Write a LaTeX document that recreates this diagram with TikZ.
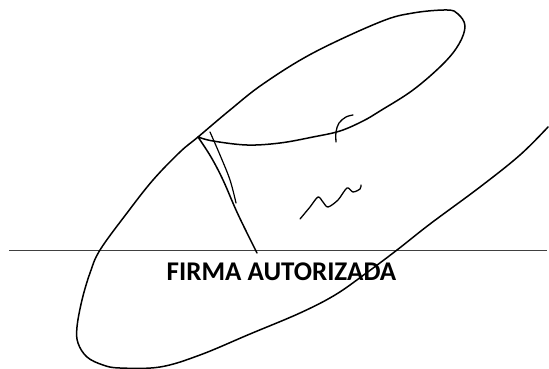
\documentclass[tikz,border=0pt]{standalone}
\usepackage{fontspec}
\setmainfont{Carlito}
\begin{document}
\begin{tikzpicture}[x=1pt,y=-1pt,
  ink/.style={line width=1.5pt,line cap=round,line join=round},
  rule/.style={line width=0.9pt,draw=black!75},
  label/.style={font=\bfseries\fontsize{27}{30}\selectfont,inner sep=0pt,anchor=base}]
\useasboundingbox (0,0) rectangle (549,369);
\coordinate (l1) at (9,250);
\coordinate (l2) at (547,250);
\draw[rule] (l1) -- (l2);
\node[label] (t) at (281.5,280) {FIRMA AUTORIZADA};
% main stroke
\draw[ink] plot[smooth,tension=0.6] coordinates {
 (198,137) (213,141) (247,145) (280,143) (313,137) (340,131) (363,121)
 (380,111) (413,90) (443,64) (459,44) (465,26) (458,14) (447,10)
 (413,13) (380,22) (313,53) (263,84) (230,110) (198,137) (180,152)
 (153,180) (127,213) (100,250) (90,273) (82,300) (77,327) (78,343)
 (87,357) (103,365) (120,368) (160,367) (200,355) (250,334)
 (300,313) (335,295) (365,274) (397,250) (430,224) (480,187) (520,155) (548,127)};
% V strokes
\draw[ink] plot[smooth,tension=0.6] coordinates {(198,137) (211,157) (223,180) (236,210) (248,235) (257,253)};
\draw[ink,line width=1.2pt] plot[smooth,tension=0.6] coordinates {(210,132) (220,155) (230,180) (236,203)};
% f hook
\draw[ink,line width=1.3pt] plot[smooth,tension=0.6] coordinates {(336,142) (336,132) (339,123) (346,117) (353,115)};
% small zigzag
\draw[ink,line width=1.3pt] plot[smooth,tension=0.5] coordinates {(300,219) (310,207) (318,197) (323,202) (328,207) (338,200) (347,188) (353,192) (360,189) (361,185)};
\end{tikzpicture}
\end{document}
